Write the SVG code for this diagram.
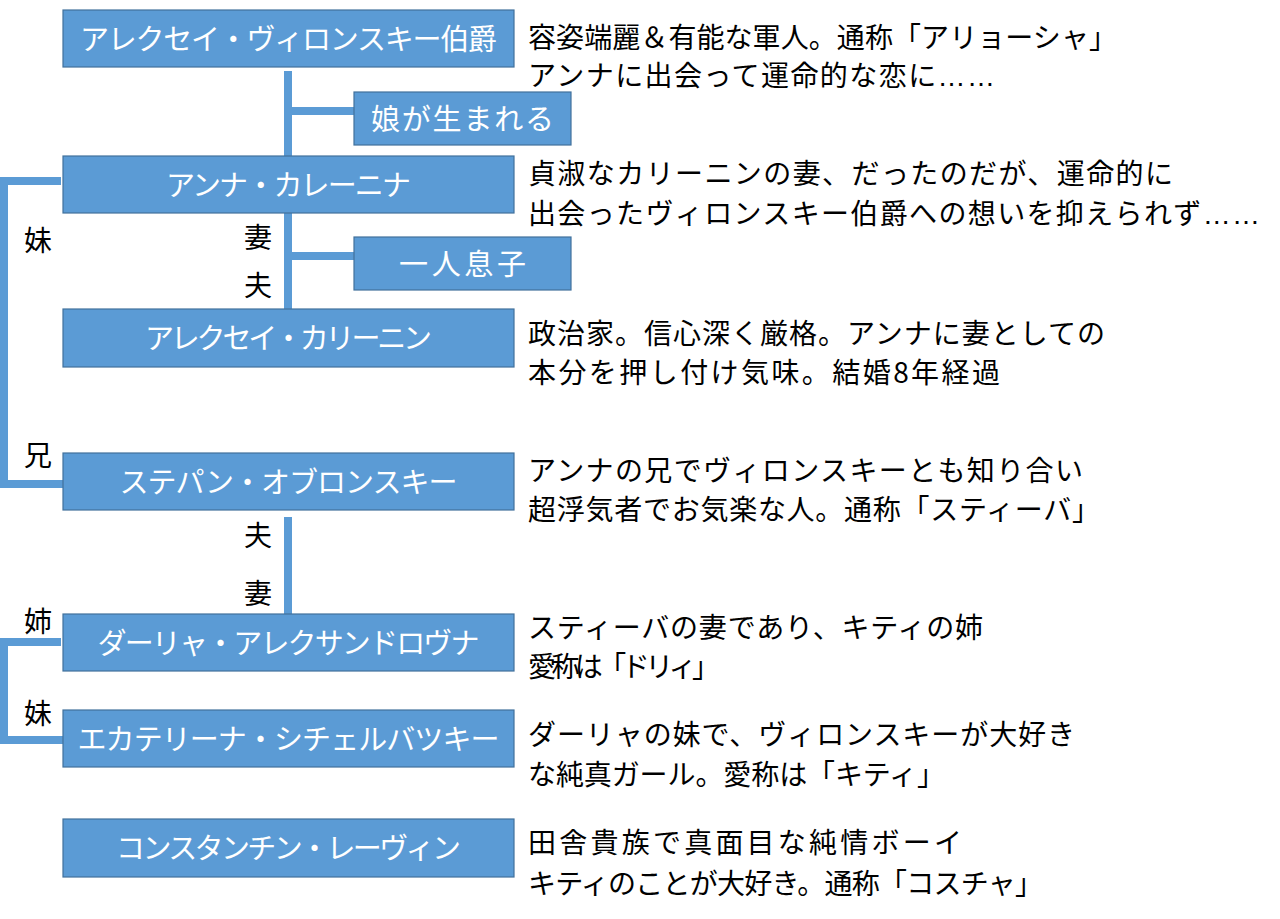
<svg xmlns="http://www.w3.org/2000/svg" width="1280" height="919" viewBox="0 0 1280 919">
<style>
.box{fill:#5B9BD5;stroke:#41719C;stroke-width:1.2}
.bl{font-family:"Noto Sans CJK JP","Noto Sans",sans-serif;font-size:29px;fill:#FFFFFF;text-anchor:middle}
.ds{font-family:"Noto Sans CJK JP","Noto Sans",sans-serif;font-size:28px;fill:#000000}
.el{font-family:"Liberation Sans","Noto Sans CJK JP",sans-serif}
.rl{font-family:"Noto Sans CJK JP","Noto Sans",sans-serif;font-size:28px;fill:#000000;text-anchor:middle}
.ln{fill:none;stroke:#5B9BD5;stroke-width:8}
</style>
<rect width="1280" height="919" fill="#FFFFFF"/>
<g id="connectors">
<path class="ln" d="M288 71 V156"/>
<path class="ln" d="M292 111 H354"/>
<path class="ln" d="M288 213 V310"/>
<path class="ln" d="M292 256 H354"/>
<path class="ln" d="M61 181 H4 V484 H63"/>
<path class="ln" d="M288 517 V614"/>
<path class="ln" d="M61 642 H4 V740 H63"/>
</g>
<g id="relation-labels">
<text class="rl" x="38" y="251">妹</text>
<text class="rl" x="38" y="466">兄</text>
<text class="rl" x="38" y="632">姉</text>
<text class="rl" x="38" y="724">妹</text>
<text class="rl" x="258" y="248">妻</text>
<text class="rl" x="258" y="296">夫</text>
<text class="rl" x="258" y="546">夫</text>
<text class="rl" x="258" y="604">妻</text>
</g>
<g id="vronsky">
<rect class="box" x="63" y="10" width="451" height="57"/>
<text class="bl" x="288.5" y="49.5" textLength="417">アレクセイ・ヴィロンスキー伯爵</text>
<text class="ds" x="528" y="47.5" textLength="589">容姿端麗＆有能な軍人。通称「アリョーシャ」</text>
<text class="ds" x="528" y="86" textLength="467">アンナに出会って運命的な恋に<tspan class="el">……</tspan></text>
</g>
<g id="daughter">
<rect class="box" x="354" y="92" width="217" height="53"/>
<text class="bl" x="462.5" y="129.5" textLength="183">娘が生まれる</text>
</g>
<g id="anna">
<rect class="box" x="63" y="156" width="451" height="57"/>
<text class="bl" x="288.5" y="195.5" textLength="245">アンナ・カレーニナ</text>
<text class="ds" x="528" y="184" textLength="645">貞淑なカリーニンの妻、だったのだが、運命的に</text>
<text class="ds" x="528" y="224" textLength="732">出会ったヴィロンスキー伯爵への想いを抑えられず<tspan class="el">……</tspan></text>
</g>
<g id="son">
<rect class="box" x="354" y="237" width="217" height="53"/>
<text class="bl" x="462.5" y="274.5" textLength="127">一人息子</text>
</g>
<g id="karenin">
<rect class="box" x="63" y="309" width="451" height="58"/>
<text class="bl" x="288.5" y="349" textLength="287">アレクセイ・カリーニン</text>
<text class="ds" x="528" y="344" textLength="577">政治家。信心深く厳格。アンナに妻としての</text>
<text class="ds" x="528" y="383" textLength="472">本分を押し付け気味。結婚8年経過</text>
</g>
<g id="stepan">
<rect class="box" x="63" y="453" width="451" height="57"/>
<text class="bl" x="288.5" y="492.5" textLength="338">ステパン・オブロンスキー</text>
<text class="ds" x="528" y="481" textLength="555">アンナの兄でヴィロンスキーとも知り合い</text>
<text class="ds" x="528" y="520" textLength="572">超浮気者でお気楽な人。通称「スティーバ」</text>
</g>
<g id="darya">
<rect class="box" x="63" y="614" width="451" height="57"/>
<text class="bl" x="288.5" y="653.5" textLength="382">ダーリャ・アレクサンドロヴナ</text>
<text class="ds" x="528" y="638" textLength="455">スティーバの妻であり、キティの姉</text>
<text class="ds" x="528" y="677" textLength="192">愛称は「ドリィ」</text>
</g>
<g id="ekaterina">
<rect class="box" x="63" y="710" width="451" height="57"/>
<text class="bl" x="288.5" y="749.5" textLength="422">エカテリーナ・シチェルバツキー</text>
<text class="ds" x="528" y="745" textLength="547">ダーリャの妹で、ヴィロンスキーが大好き</text>
<text class="ds" x="528" y="785" textLength="417">な純真ガール。愛称は「キティ」</text>
</g>
<g id="levin">
<rect class="box" x="63" y="819" width="451" height="58"/>
<text class="bl" x="288.5" y="859" textLength="345">コンスタンチン・レーヴィン</text>
<text class="ds" x="528" y="853" textLength="434">田舎貴族で真面目な純情ボーイ</text>
<text class="ds" x="528" y="894" textLength="515">キティのことが大好き。通称「コスチャ」</text>
</g>
</svg>
